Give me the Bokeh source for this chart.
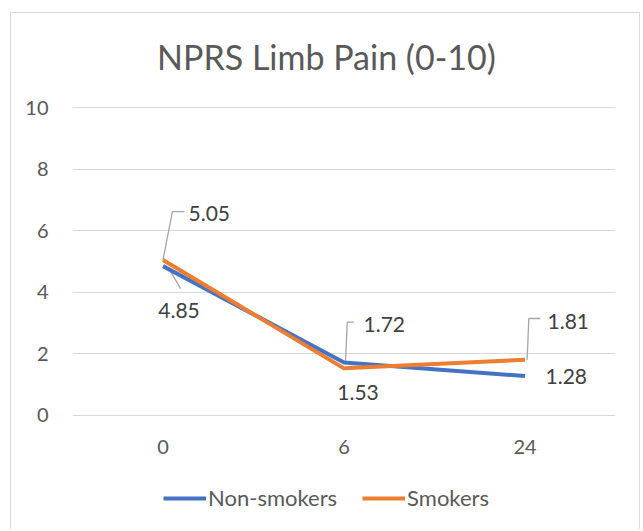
from bokeh.plotting import figure
from bokeh.models import FactorRange, Range1d, Legend, LegendItem, FixedTicker, Label
from bokeh.core.properties import value
from bokeh.embed import file_html
from bokeh.resources import INLINE

# ---- data ----
categories = ["0", "6", "24"]
non_smokers = [4.85, 1.72, 1.28]
smokers = [5.05, 1.53, 1.81]
y_ticks = [0, 2, 4, 6, 8, 10]
title_text = "NPRS Limb Pain (0-10)"
series_names = ["Non-smokers", "Smokers"]

FONT = "Lato"
BLUE = "#4472C4"
ORANGE = "#ED7D31"
GRID = "#d9d9d9"
TXT = "#595959"
LBL = "#404040"
LEAD = "#a6a6a6"

# frame spans the full canvas height so that title and legend can sit inside it
p = figure(width=630, height=517,
           x_range=FactorRange(*categories), y_range=Range1d(-3.734, 13.052),
           output_backend="svg", toolbar_location=None,
           min_border_left=61, min_border_right=26,
           min_border_top=0, min_border_bottom=0)
p.styles = {"border-left": "1px solid #d9d9d9", "border-top": "1px solid #d9d9d9",
            "border-right": "1px solid #d9d9d9", "margin-left": "10px", "margin-top": "12px"}
p.outline_line_color = None
p.background_fill_color = "white"
p.border_fill_color = "white"

p.xgrid.grid_line_color = None
p.ygrid.grid_line_color = GRID
p.ygrid.grid_line_width = 1
p.yaxis.ticker = FixedTicker(ticks=y_ticks)
p.xaxis.fixed_location = 0

for ax in (p.xaxis[0], p.yaxis[0]):
    ax.axis_line_color = None
    ax.major_tick_line_color = None
    ax.minor_tick_line_color = None
    ax.major_tick_out = 0
    ax.major_tick_in = 0
    ax.major_label_text_font = FONT
    ax.major_label_text_font_size = "20px"
    ax.major_label_text_color = TXT
p.yaxis.major_label_standoff = 24
p.xaxis.major_label_standoff = 25

# ---- title ----
p.add_layout(Label(x=1.403, y=11.66, text=title_text, text_align="center",
                   text_baseline="alphabetic", text_font=FONT,
                   text_font_size="34px", text_color=TXT))

# ---- leader lines (offsets: category units, data units) ----
leaders = [
    (0, smokers, [(0.0, 0.0), (0.052, 1.57), (0.119, 1.57)]),
    (0, non_smokers, [(0.030, -0.05), (0.097, -0.73)]),
    (1, non_smokers, [(0.008, 0.0), (0.018, 1.31), (0.054, 1.31)]),
    (2, smokers, [(0.012, 0.0), (0.021, 1.34), (0.085, 1.34)]),
]
for i, series, pts in leaders:
    xs = [(categories[i], dx) for dx, dy in pts]
    ys = [series[i] + dy for dx, dy in pts]
    p.line(xs, ys, line_color=LEAD, line_width=1.3)

r1 = p.line(categories, non_smokers, line_color=BLUE, line_width=4, line_join="round")
r2 = p.line(categories, smokers, line_color=ORANGE, line_width=4, line_join="round")

# ---- data labels ----
label_specs = [
    (0, non_smokers, 16, 44, "center"),
    (0, smokers, 25.5, -46.5, "left"),
    (1, non_smokers, 19.5, -38.5, "left"),
    (1, smokers, 14, 24.6, "center"),
    (2, non_smokers, 20.5, 0, "left"),
    (2, smokers, 22.5, -38, "left"),
]
for i, series, xo, yo, al in label_specs:
    p.text(x=[categories[i]], y=[series[i]], text=[f"{series[i]:.2f}"],
           x_offset=xo, y_offset=yo, text_align=al, text_baseline="middle",
           text_font=value(FONT), text_font_size="21px", text_color=LBL)

# ---- legend ----
legend = Legend(items=[LegendItem(label=series_names[0], renderers=[r1]),
                       LegendItem(label=series_names[1], renderers=[r2])],
                location=(91, 19), orientation="horizontal",
                glyph_width=43, glyph_height=20, label_standoff=2, spacing=25,
                padding=0, margin=0, border_line_color=None,
                background_fill_alpha=0, label_text_font=FONT,
                label_text_font_size="22px", label_text_color=TXT)
p.add_layout(legend, "center")

open("out.html", "w").write(file_html(p, INLINE))
